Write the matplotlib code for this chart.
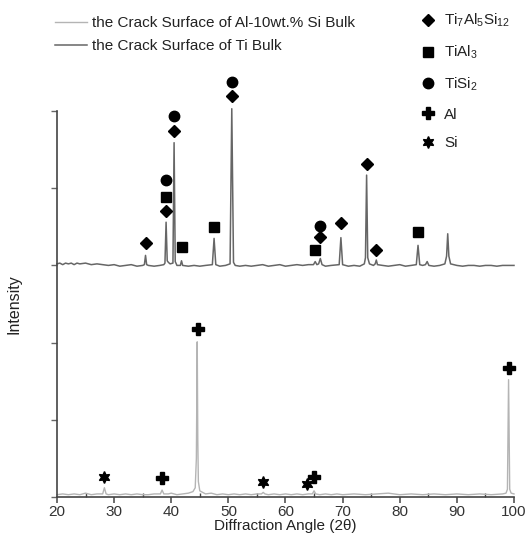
import matplotlib
matplotlib.use('Agg')
import matplotlib.pyplot as plt

plt.rcParams['font.family'] = ['Liberation Sans', 'DejaVu Sans']
plt.rcParams['mathtext.fontset'] = 'custom'
plt.rcParams['mathtext.rm'] = 'Liberation Sans'
plt.rcParams['mathtext.it'] = 'Liberation Sans:italic'

# Ti bulk crack surface (upper pattern, offset baseline ~3)
ti_2theta = [20, 20.5, 21, 21.5, 22, 22.5, 23, 23.5, 24, 25, 26, 27, 28, 29, 30,
             31, 32, 33, 34, 35.0, 35.3, 35.5, 35.7, 36, 37, 38, 38.7, 38.9,
             39.1, 39.3, 39.5, 39.8, 40.3, 40.5, 40.7, 41.0, 41.6, 41.8, 42.0,
             43, 44, 45, 46, 47.2, 47.5, 47.8, 48.5, 49.5, 50.3, 50.6, 50.9,
             51.2, 52, 53, 54, 55, 56, 57, 58, 59, 60, 61, 62, 63, 64, 64.9,
             65.2, 65.5, 65.8, 66.1, 66.4, 67, 68, 69.4, 69.7, 70.0, 71, 72, 73,
             73.8, 74.0, 74.2, 74.4, 74.7, 75.4, 75.7, 75.9, 76.1, 77, 78, 79,
             80, 81, 82, 82.9, 83.2, 83.5, 84, 84.5, 84.8, 85.1, 86, 87, 87.9,
             88.2, 88.4, 88.6, 88.9, 90, 91, 92, 93, 94, 95, 96, 97, 98, 99, 100]
ti_int = [3.02, 3.03, 3.01, 3.03, 3.02, 3.03, 3.01, 3.03, 3.02, 3.03, 3.01, 3.02,
          3.01, 3.00, 3.01, 2.99, 3.00, 3.01, 2.99, 3.00, 3.01, 3.13, 3.01, 3.00,
          2.99, 3.00, 3.01, 3.03, 3.56, 3.06, 3.04, 3.02, 3.03, 4.59, 3.05, 3.00,
          3.00, 3.06, 3.00, 2.99, 3.00, 2.99, 3.00, 3.01, 3.35, 3.01, 2.99, 3.00,
          3.02, 5.03, 3.04, 3.00, 2.99, 3.00, 2.99, 3.00, 3.01, 2.99, 3.00, 3.01,
          2.99, 3.00, 3.01, 3.00, 3.01, 3.01, 3.05, 3.01, 3.02, 3.09, 3.01, 2.99,
          3.00, 3.01, 3.36, 3.01, 2.99, 3.00, 2.99, 3.02, 3.10, 4.17, 3.10, 3.02,
          3.00, 3.02, 3.07, 3.01, 3.00, 2.99, 3.00, 3.01, 2.99, 3.00, 3.01, 3.26,
          3.01, 3.00, 3.01, 3.05, 3.00, 2.99, 3.00, 3.02, 3.12, 3.41, 3.12, 3.02,
          3.00, 2.99, 3.00, 3.00, 2.99, 3.00, 3.00, 2.99, 3.00, 3.00, 3.00]

# Al-10wt.% Si bulk crack surface (lower pattern)
alsi_2theta = [20, 21, 22, 23, 24, 25, 26, 27, 28.0, 28.3, 28.6, 29, 30, 31, 32,
               33, 34, 35, 36, 37, 38.1, 38.4, 38.7, 39.5, 40, 41, 42, 43, 43.8,
               44.2, 44.4, 44.55, 44.65, 44.75, 45.0, 45.5, 46, 47, 48, 49, 50,
               51, 52, 53, 54, 55, 55.8, 56.1, 56.4, 57, 58, 59, 60, 61, 62, 63,
               64, 64.7, 65.0, 65.3, 66, 67, 68, 69, 70, 72, 74, 76, 78, 80, 82,
               84, 86, 88, 90, 92, 94, 96, 98, 98.6, 98.85, 99.05, 99.25, 99.5, 100]
alsi_int = [0.03, 0.04, 0.03, 0.04, 0.03, 0.05, 0.03, 0.04, 0.04, 0.12, 0.04,
            0.03, 0.04, 0.03, 0.04, 0.03, 0.04, 0.03, 0.03, 0.04, 0.04, 0.09,
            0.04, 0.04, 0.05, 0.03, 0.04, 0.05, 0.07, 0.12, 0.50, 2.01, 0.74,
            0.20, 0.08, 0.06, 0.04, 0.05, 0.03, 0.04, 0.03, 0.04, 0.03, 0.04,
            0.03, 0.04, 0.04, 0.06, 0.04, 0.03, 0.04, 0.03, 0.04, 0.03, 0.04,
            0.03, 0.04, 0.04, 0.08, 0.04, 0.03, 0.04, 0.03, 0.04, 0.03, 0.04,
            0.03, 0.04, 0.05, 0.03, 0.04, 0.03, 0.04, 0.03, 0.04, 0.03, 0.04,
            0.03, 0.04, 0.05, 0.10, 1.52, 0.10, 0.05, 0.04]

# phase markers (2theta, height)
ti7_x = [35.5, 39.1, 40.5, 50.6, 66.1, 69.7, 74.2, 75.9]
ti7_y = [3.29, 3.70, 4.74, 5.19, 3.37, 3.55, 4.32, 3.20]
tial3_x = [39.1, 41.8, 47.5, 65.2, 83.2]
tial3_y = [3.89, 3.24, 3.50, 3.20, 3.43]
tisi2_x = [39.1, 40.5, 50.6, 66.1]
tisi2_y = [4.11, 4.94, 5.37, 3.51]
al_x = [38.4, 44.6, 65.0, 99.1]
al_y = [0.24, 2.17, 0.26, 1.67]
si_x = [28.3, 56.1, 63.8]
si_y = [0.26, 0.19, 0.17]

fig = plt.figure(figsize=(5.3, 5.4), dpi=100)
ax = fig.add_axes([0.1075, 0.0796, 0.8623, 0.7148])

l1, = ax.plot(alsi_2theta, alsi_int, color='#b4b4b4', lw=1.0, clip_on=False)
l2, = ax.plot(ti_2theta, ti_int, color='#666666', lw=1.1, clip_on=False)

mk = dict(color='black', linestyle='none', clip_on=False, zorder=5)
h1, = ax.plot(ti7_x, ti7_y, marker='D', ms=6.3, **mk)
h2, = ax.plot(tial3_x, tial3_y, marker='s', ms=7.5, **mk)
h3, = ax.plot(tisi2_x, tisi2_y, marker='o', ms=7.5, **mk)
h4, = ax.plot(al_x, al_y, marker='P', ms=9, **mk)
h5, = ax.plot(si_x, si_y, marker=(6, 1, 0), ms=8.5, **mk)

ax.set_xlim(20, 100)
ax.set_ylim(0, 5)
ax.set_xticks(range(20, 101, 10))
ax.set_xticks(range(25, 100, 10), minor=True)
ax.set_yticks(range(0, 6))
ax.set_yticklabels([])
for s in ['top', 'right']:
    ax.spines[s].set_visible(False)
for s in ['left', 'bottom']:
    ax.spines[s].set_color('#444444')
    ax.spines[s].set_linewidth(1.2)
ax.tick_params(axis='x', which='major', direction='out', length=4, width=1.1,
               color='#444444', labelsize=11, labelcolor='#333333', pad=2)
ax.tick_params(axis='x', which='minor', direction='in', length=3, width=1.0,
               color='#444444')
ax.tick_params(axis='y', direction='out', length=4, width=1.0, color='#666666')

ax.set_xlabel('Diffraction Angle (2θ)', fontsize=11, color='#222222', labelpad=0)
ax.set_ylabel('Intensity', fontsize=11.5, color='#222222', labelpad=18)

leg1 = fig.legend([l1, l2], ['the Crack Surface of Al-10wt.% Si Bulk',
                             'the Crack Surface of Ti Bulk'],
                  loc='upper left', bbox_to_anchor=(55 / 530, 1 - 16 / 540),
                  frameon=False, fontsize=11, handlelength=2.1,
                  handletextpad=0.35, labelspacing=0.6, borderpad=0,
                  borderaxespad=0, labelcolor='#222222')

labels = ['Ti$_7$Al$_5$Si$_{12}$', 'TiAl$_3$', 'TiSi$_2$', 'Al', 'Si']
leg2 = fig.legend([h1, h2, h3, h4, h5], labels, loc='upper left',
                  bbox_to_anchor=(420 / 530, 1 - 12 / 540), frameon=False,
                  fontsize=11, handlelength=1.0, handletextpad=0.6,
                  labelspacing=0.95, borderpad=0, borderaxespad=0,
                  labelcolor='#222222')

fig.savefig('out.png', dpi=100)
